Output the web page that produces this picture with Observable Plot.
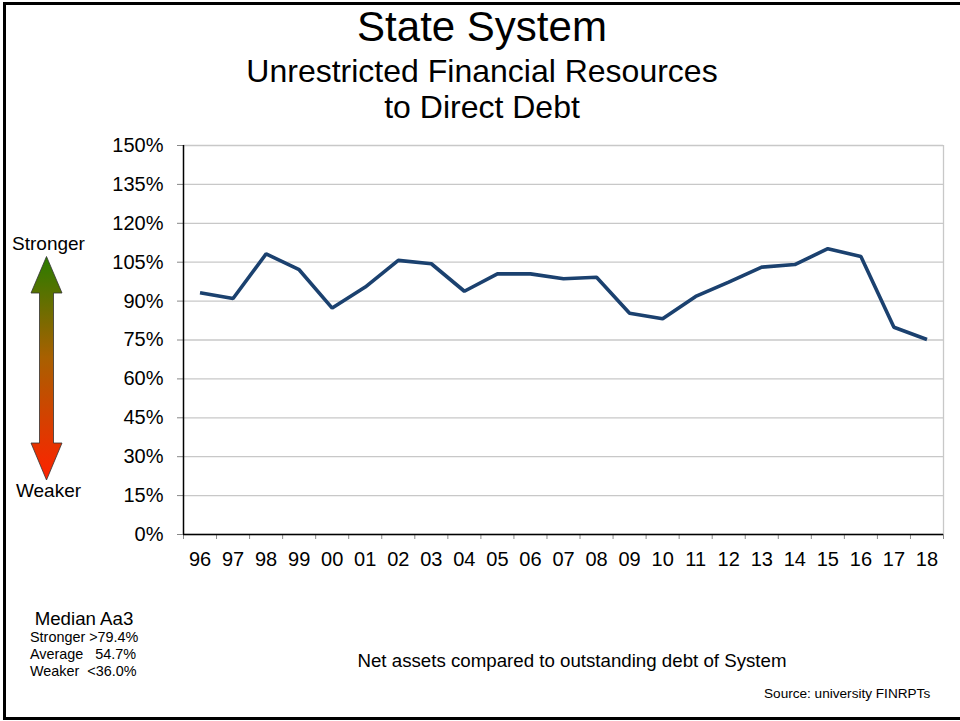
<!DOCTYPE html>
<html>
<head>
<meta charset="utf-8">
<script src="https://cdn.jsdelivr.net/npm/d3@7"></script>
<script src="https://cdn.jsdelivr.net/npm/@observablehq/plot@0.6"></script>
<style>
  html, body { margin: 0; padding: 0; background: #fff; }
  body { width: 960px; height: 721px; overflow: hidden; font-family: "Liberation Sans", Arial, sans-serif; color: #000; }
  #wrap { position: relative; width: 960px; height: 721px; }
  #frame { position: absolute; left: 3px; top: 2px; width: 980px; height: 712px; border: 3px solid #000; border-right: none; }
  .t { position: absolute; white-space: nowrap; line-height: 1; }
  #chart { position: absolute; left: 0; top: 0; }
</style>
</head>
<body>
<div id="wrap">
  <div id="frame"></div>
  <div id="chart"></div>
  <div class="t" style="left:0;width:964px;text-align:center;top:6px;font-size:42px;">State System</div>
  <div class="t" style="left:0;width:964px;text-align:center;top:55px;font-size:32px;">Unrestricted Financial Resources</div>
  <div class="t" style="left:0;width:964px;text-align:center;top:91px;font-size:32px;">to Direct Debt</div>
  <div class="t" style="left:0;width:97px;text-align:center;top:234px;font-size:19px;">Stronger</div>
  <div class="t" style="left:0;width:97px;text-align:center;top:481px;font-size:19px;">Weaker</div>
  <svg style="position:absolute;left:0;top:0" width="100" height="721">
    <defs>
      <linearGradient id="g" x1="0" y1="0" x2="0" y2="1">
        <stop offset="0" stop-color="#2a7c00"/>
        <stop offset="0.45" stop-color="#a86000"/>
        <stop offset="1" stop-color="#ff2200"/>
      </linearGradient>
    </defs>
    <path d="M46.5,256.5 L62,293 L53.5,293 L53.5,443 L62,443 L46.5,480 L31,443 L39.5,443 L39.5,293 L31,293 Z"
          fill="url(#g)" stroke="#333" stroke-width="0.8"/>
  </svg>
  <div class="t" style="left:24px;width:120px;text-align:center;top:610px;font-size:18.7px;">Median Aa3</div>
  <div class="t" style="left:30px;top:630px;font-size:14.4px;">Stronger &gt;79.4%</div>
  <div class="t" style="left:30px;top:647px;font-size:14.4px;white-space:pre;">Average   54.7%</div>
  <div class="t" style="left:30px;top:664px;font-size:14.4px;white-space:pre;">Weaker  &lt;36.0%</div>
  <div class="t" style="left:0;width:1144px;text-align:center;top:652px;font-size:18.7px;">Net assets compared to outstanding debt of System</div>
  <div class="t" style="left:764px;top:687px;font-size:13.6px;">Source: university FINRPTs</div>
</div>
<script>
const years = ["96","97","98","99","00","01","02","03","04","05","06","07","08","09","10","11","12","13","14","15","16","17","18"];
const ratio = [93.2, 91.0, 108.2, 102.1, 87.3, 95.4, 105.7, 104.4, 93.8, 100.5, 100.5, 98.6, 99.2, 85.3, 83.2, 91.8, 97.3, 103.1, 104.1, 110.2, 107.2, 79.9, 75.2];
const yTicks = [0, 15, 30, 45, 60, 75, 90, 105, 120, 135, 150];

const data = years.map((y, i) => ({i, year: y, v: ratio[i]}));
const boundaries = d3.range(years.length + 1);
const centers = years.map((_, i) => i + 0.5);

const plot = Plot.plot({
  width: 960,
  height: 721,
  marginLeft: 183,
  marginRight: 17,
  marginTop: 145,
  marginBottom: 187,
  style: {fontFamily: "Liberation Sans, Arial, sans-serif", background: "transparent", color: "#000"},
  x: {type: "linear", domain: [0, years.length]},
  y: {domain: [0, 150]},
  marks: [
    Plot.gridY(yTicks, {stroke: "#c8c8c8", strokeOpacity: 1, strokeWidth: 1.3}),
    Plot.ruleX([years.length], {stroke: "#c8c8c8", strokeWidth: 1.3}),
    Plot.axisY({ticks: yTicks, tickFormat: d => d + "%", tickSize: 6, tickPadding: 14, fontSize: 20, label: null, stroke: "#888"}),
    Plot.axisX({ticks: boundaries, tickFormat: () => "", tickSize: 5, label: null, stroke: "#888"}),
    Plot.axisX({ticks: centers, tickFormat: d => years[Math.floor(d)], tickSize: 0, tickPadding: 17, fontSize: 20, label: null}),
    Plot.ruleX([0], {stroke: "#000", strokeWidth: 1.5}),
    Plot.ruleY([0], {stroke: "#000", strokeWidth: 1.5}),
    Plot.line(data, {x: d => d.i + 0.5, y: "v", stroke: "#1b416f", strokeWidth: 3.6, strokeLinejoin: "miter", strokeLinecap: "butt"})
  ]
});
document.getElementById("chart").appendChild(plot);
</script>
</body>
</html>
